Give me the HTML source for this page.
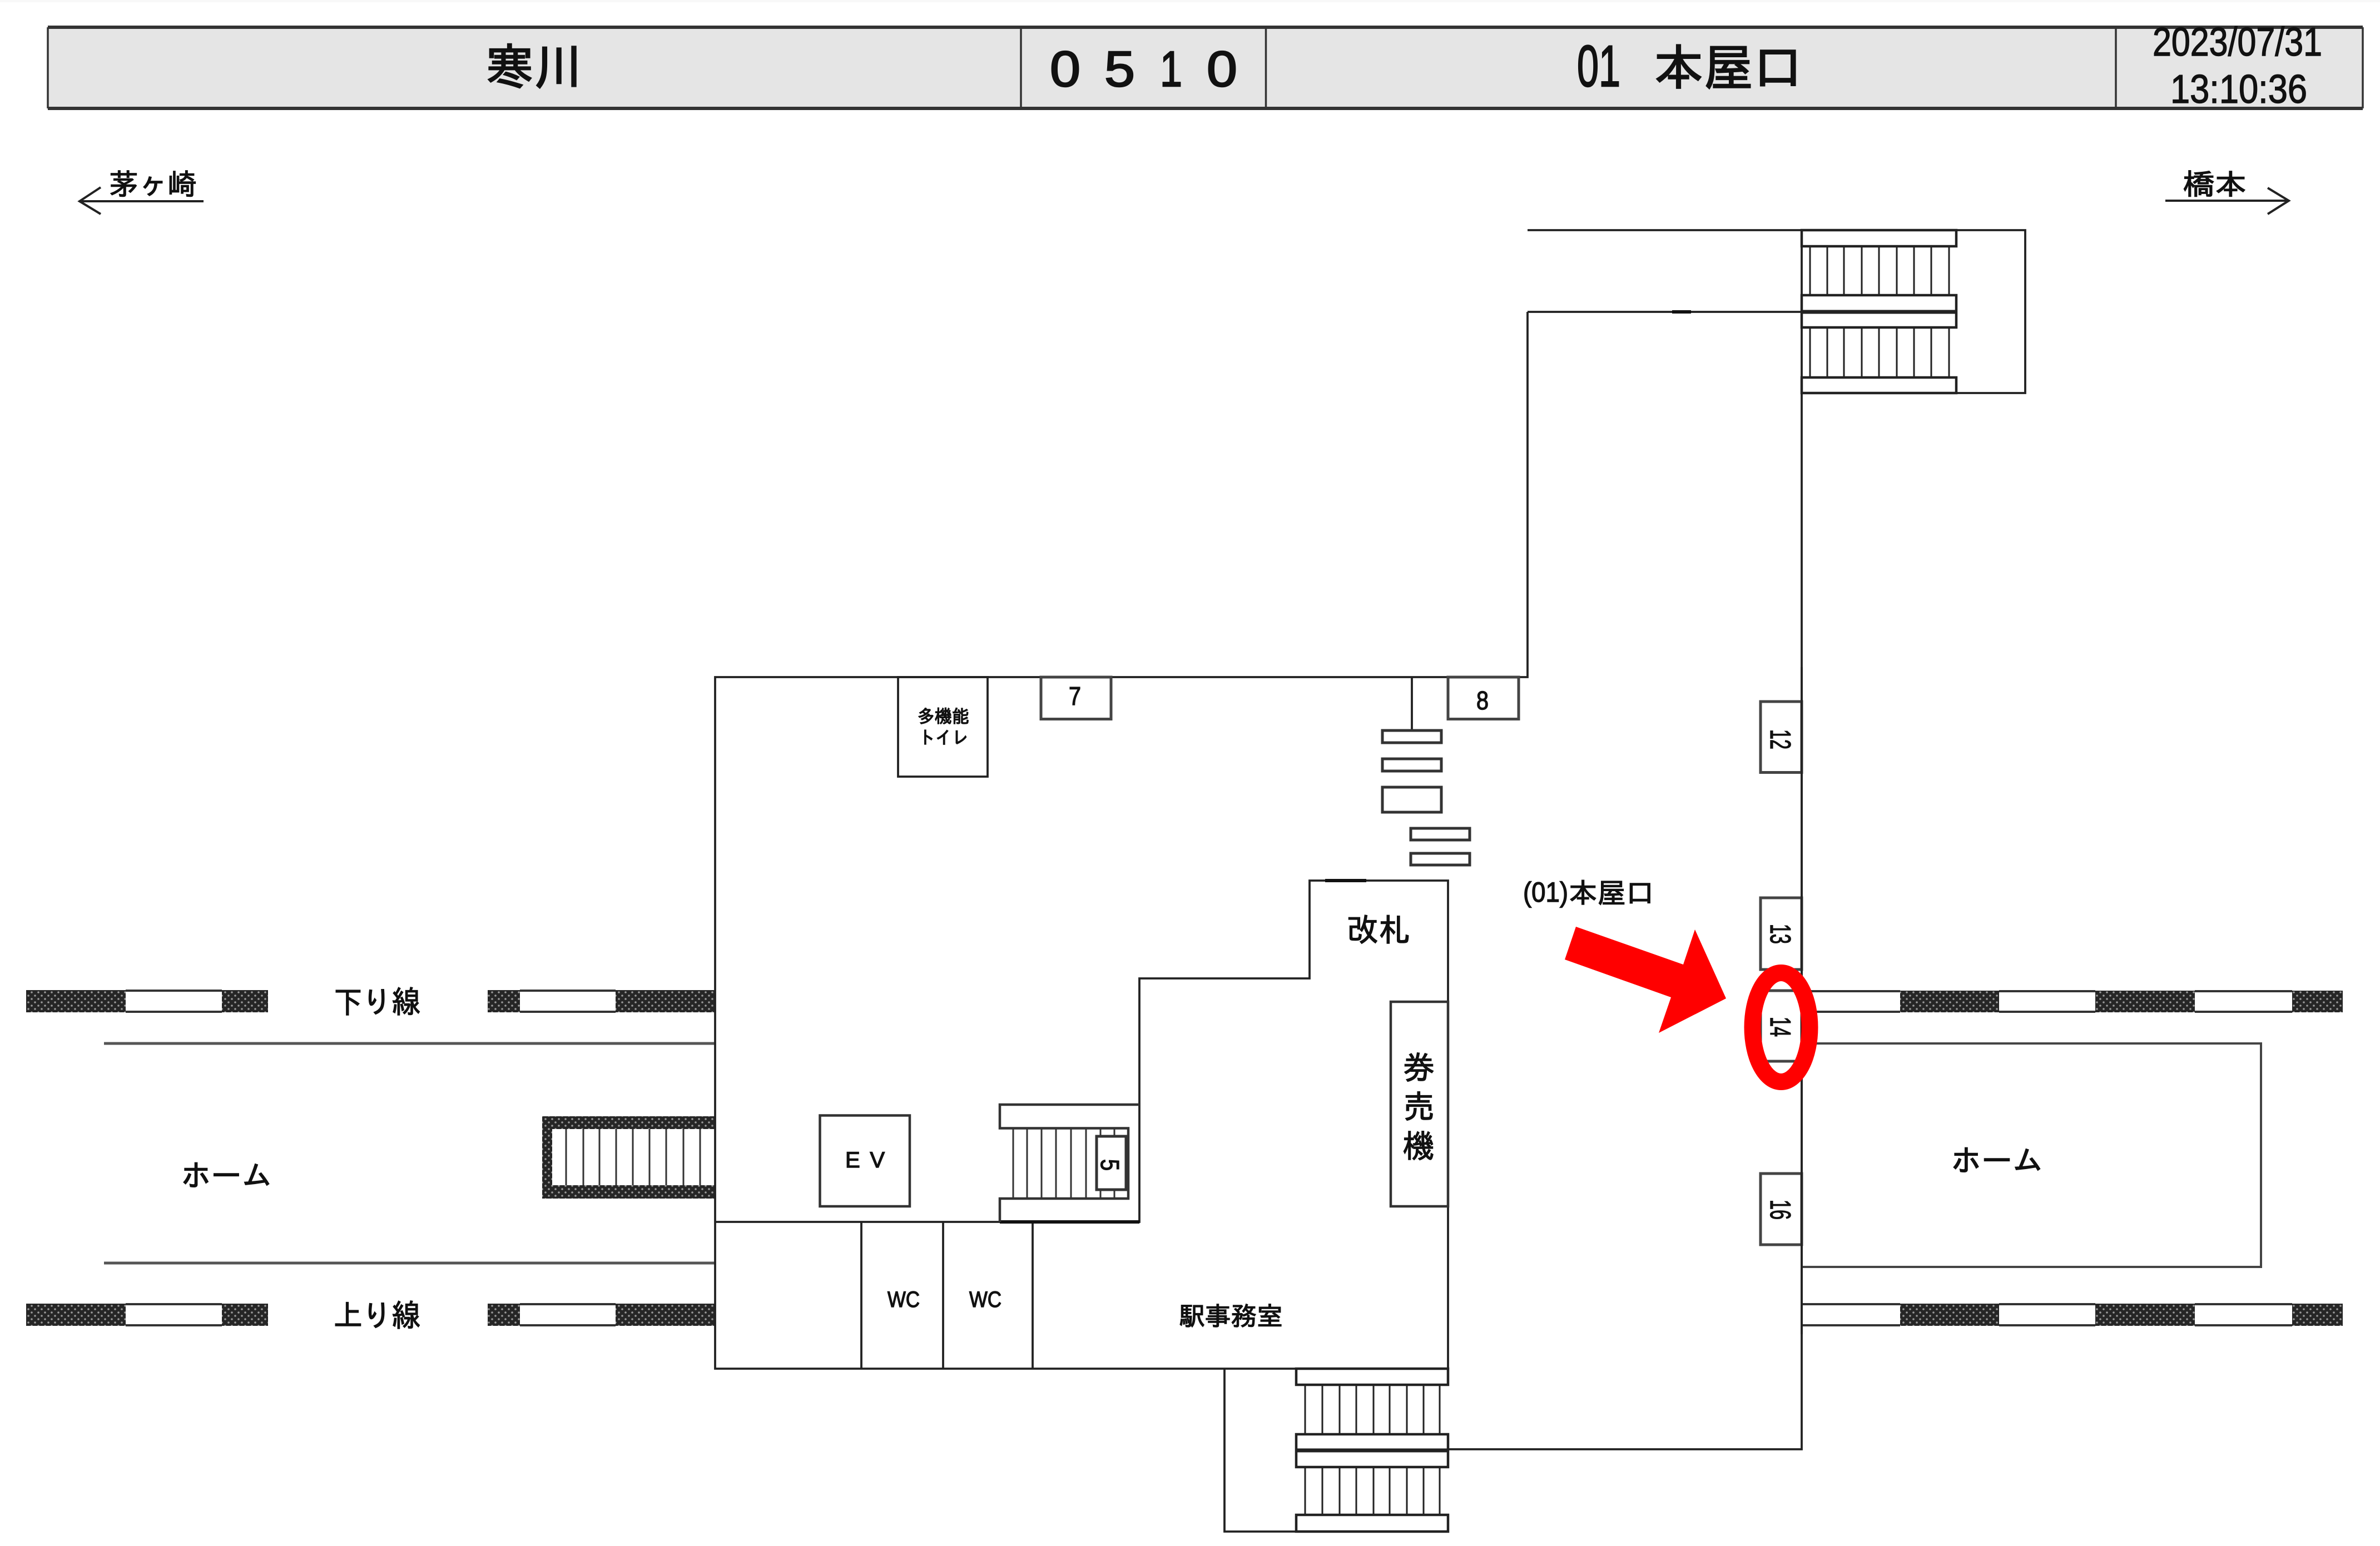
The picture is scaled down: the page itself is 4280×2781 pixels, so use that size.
<!DOCTYPE html>
<html lang="ja"><head><meta charset="utf-8"><title>寒川 0510</title>
<style>
html,body{margin:0;padding:0;background:#fff}
svg{display:block}
text{font-family:"Liberation Sans","IPAGothic","Noto Sans CJK JP",sans-serif;fill:#111;stroke:#111;stroke-width:1.4px}
.b{stroke-width:2.4px}
</style></head><body>
<svg xmlns="http://www.w3.org/2000/svg" width="4280" height="2781" viewBox="0 0 4280 2781">
<defs>
<pattern id="h" width="12" height="12" patternUnits="userSpaceOnUse">
<rect width="12" height="12" fill="#262626"/>
<circle cx="3" cy="3" r="1.8" fill="#999"/><circle cx="9" cy="9" r="1.8" fill="#999"/>
</pattern>
</defs>
<rect width="4280" height="2781" fill="#fff"/>
<rect width="4280" height="4" fill="#f8f8f8"/>

<!-- header -->
<rect x="86" y="49" width="4163" height="146" fill="#e5e5e5"/>
<g stroke="#333" fill="none">
<path d="M86 49H4249M86 195H4249" stroke-width="6"/>
<path d="M86 49V195M1836 47V197M2276.500 47V197M3805 47V197M4249 49V195" stroke-width="3.500"/>
</g>
<text class="b" x="873" y="152" font-size="88" textLength="175" lengthAdjust="spacingAndGlyphs">寒川</text>
<g font-size="90" class="b">
<text class="b" x="1888" y="155" textLength="55" lengthAdjust="spacingAndGlyphs">0</text>
<text class="b" x="1986" y="155" textLength="55" lengthAdjust="spacingAndGlyphs">5</text>
<text class="b" x="2086" y="155" textLength="40" lengthAdjust="spacingAndGlyphs">1</text>
<text class="b" x="2170" y="155" textLength="55" lengthAdjust="spacingAndGlyphs">0</text>
</g>
<text class="b" x="2836" y="155" font-size="105" textLength="78" lengthAdjust="spacingAndGlyphs">01</text>
<text class="b" x="2974" y="153" font-size="89" textLength="268" lengthAdjust="spacingAndGlyphs">本屋口</text>
<text x="3871" y="100" font-size="72" textLength="305" lengthAdjust="spacingAndGlyphs">2023/07/31</text>
<text x="3903" y="185" font-size="72" textLength="246" lengthAdjust="spacingAndGlyphs">13:10:36</text>

<!-- direction arrows -->
<text x="196" y="350" font-size="52" textLength="158" lengthAdjust="spacingAndGlyphs">茅ヶ崎</text>
<path d="M147 362H366M181 337L143 362L181 385" fill="none" stroke="#222" stroke-width="4"/>
<text x="3926" y="350" font-size="52" textLength="114" lengthAdjust="spacingAndGlyphs">橋本</text>
<path d="M3894 361H4115M4078 338L4116 361L4078 385" fill="none" stroke="#222" stroke-width="4"/>

<!-- tracks -->
<g>
<rect x="47" y="1781" width="179" height="40" fill="url(#h)"/>
<rect x="399" y="1781" width="83" height="40" fill="url(#h)"/>
<rect x="877" y="1781" width="58" height="40" fill="url(#h)"/>
<rect x="1107" y="1781" width="180" height="40" fill="url(#h)"/>
<rect x="47" y="2345" width="179" height="40" fill="url(#h)"/>
<rect x="399" y="2345" width="83" height="40" fill="url(#h)"/>
<rect x="877" y="2345" width="58" height="40" fill="url(#h)"/>
<rect x="1107" y="2345" width="180" height="40" fill="url(#h)"/>
<rect x="3417" y="1782" width="178" height="39" fill="url(#h)"/>
<rect x="3768" y="1782" width="179" height="39" fill="url(#h)"/>
<rect x="4122" y="1782" width="91" height="39" fill="url(#h)"/>
<rect x="3417" y="2345" width="178" height="40" fill="url(#h)"/>
<rect x="3768" y="2345" width="179" height="40" fill="url(#h)"/>
<rect x="4122" y="2345" width="91" height="40" fill="url(#h)"/>
</g>
<g stroke="#333" stroke-width="4" fill="none">
<path d="M226 1782H399M226 1820H399M935 1782H1107M935 1820H1107M226 2346H399M226 2384H399M935 2346H1107M935 2384H1107"/>
<path d="M3240 1783H3417M3240 1820H3417M3595 1783H3768M3595 1820H3768M3947 1783H4122M3947 1820H4122"/>
<path d="M3240 2346H3417M3240 2384H3417M3595 2346H3768M3595 2384H3768M3947 2346H4122M3947 2384H4122"/>
</g>
<path d="M187 1877H1287M187 2272H1287" stroke="#555" stroke-width="5" fill="none"/>

<!-- left stair -->
<path d="M975 2008H1287V2031H993V2132H1287V2156H975Z" fill="url(#h)"/>
<path d="M1018 2031V2132M1049 2031V2132M1078 2031V2132M1108 2031V2132M1138 2031V2132M1168 2031V2132M1198 2031V2132M1229 2031V2132M1259 2031V2132" stroke="#333" stroke-width="3"/>

<!-- walls -->
<g stroke="#222" stroke-width="3.800" fill="none">
<path d="M2747 414H3642V707H3240M2747 561V1218H1286V2462H2604V1584H2355V1760H2049V2198H1286"/>
<path d="M2747 561H3240M3240 414V2607H2604"/>
<path d="M1549 2198V2462M1696 2198V2462M1857 2198V2462"/>
<path d="M2539 1218V1314M2202 2462V2755H2604"/>
<path d="M3240 1877H4066V2279H3240" stroke="#444" stroke-width="4"/>
<rect x="1615" y="1218" width="161" height="179"/>
<rect x="1872" y="1218" width="126" height="75.500" stroke-width="5" stroke="#444"/>
<rect x="2604" y="1218" width="127" height="75.500" stroke-width="5" stroke="#444"/>
<rect x="2486" y="1314" width="106" height="22" stroke-width="5" stroke="#333"/>
<rect x="2486" y="1365" width="106" height="22" stroke-width="5" stroke="#333"/>
<rect x="2486" y="1416" width="106" height="45" stroke-width="5" stroke="#333"/>
<rect x="2537" y="1490" width="106" height="21" stroke-width="5" stroke="#333"/>
<rect x="2537" y="1535" width="106" height="21" stroke-width="5" stroke="#333"/>
<rect x="2501" y="1802" width="103" height="368" stroke="#333" stroke-width="4.500"/>
<rect x="1474.500" y="2006.500" width="161.500" height="163.500" stroke="#333" stroke-width="4.500"/>
</g>
<path d="M2383 1584H2457M3007 561H3041M1798 2198H2049" stroke="#111" stroke-width="6" fill="none"/>

<!-- upper stair -->
<g stroke="#222" fill="none">
<rect x="3240" y="414" width="278" height="29" stroke-width="4.500"/>
<rect x="3240" y="531" width="278" height="58" stroke-width="4.500"/>
<rect x="3240" y="679" width="278" height="28" stroke-width="4.500"/>
<path d="M3240 561H3518" stroke-width="7"/>
<path d="M3255 443V531M3286 443V531M3316 443V531M3348 443V531M3379 443V531M3411 443V531M3442 443V531M3473 443V531M3505 443V531M3255 589V679M3286 589V679M3316 589V679M3348 589V679M3379 589V679M3411 589V679M3442 589V679M3473 589V679M3505 589V679" stroke-width="3"/>
</g>

<!-- lower stair -->
<g stroke="#222" fill="none">
<rect x="2331" y="2462" width="273" height="29" stroke-width="4.500"/>
<rect x="2331" y="2580" width="273" height="59" stroke-width="4.500"/>
<rect x="2331" y="2725" width="273" height="30" stroke-width="4.500"/>
<path d="M2331 2609H2604" stroke-width="7"/>
<path d="M2347 2491V2580M2378 2491V2580M2409 2491V2580M2439 2491V2580M2470 2491V2580M2499 2491V2580M2530 2491V2580M2560 2491V2580M2589 2491V2580M2347 2639V2725M2378 2639V2725M2409 2639V2725M2439 2639V2725M2470 2639V2725M2499 2639V2725M2530 2639V2725M2560 2639V2725M2589 2639V2725" stroke-width="3"/>
</g>

<!-- stair 5 -->
<g stroke="#333" fill="none">
<path d="M2049 1987H1798V2029.500H2029V2156H1798V2198" stroke-width="4.500"/>
<path d="M1822 2030V2156M1847 2030V2156M1873 2030V2156M1899 2030V2156M1926 2030V2156M1953 2030V2156M1979 2030V2156M2004 2030V2156" stroke-width="3"/>
<rect x="1972" y="2044" width="53" height="96" fill="#fff" stroke-width="5"/>
</g>

<!-- side boxes -->
<g stroke="#444" stroke-width="5" fill="#fff">
<rect x="3166" y="1262" width="74" height="127.500"/>
<rect x="3166" y="1615" width="74" height="129"/>
<rect x="3166" y="1782" width="74" height="127"/>
<rect x="3166" y="2111" width="74" height="128"/>
</g>
<path d="M3240 1200V2400" stroke="#222" stroke-width="3.800" fill="none"/>

<!-- labels -->
<text transform="translate(3184 1312) rotate(90)" font-size="52" textLength="36" lengthAdjust="spacingAndGlyphs">12</text>
<text transform="translate(3184 1662) rotate(90)" font-size="52" textLength="36" lengthAdjust="spacingAndGlyphs">13</text>
<text transform="translate(3184 1829) rotate(90)" font-size="52" textLength="36" lengthAdjust="spacingAndGlyphs">14</text>
<text transform="translate(3184 2158) rotate(90)" font-size="52" textLength="36" lengthAdjust="spacingAndGlyphs">16</text>
<text transform="translate(1980 2085) rotate(90)" font-size="46" textLength="21" lengthAdjust="spacingAndGlyphs">5</text>
<text x="1922" y="1268" font-size="46" textLength="22" lengthAdjust="spacingAndGlyphs">7</text>
<text x="2655" y="1276" font-size="46" textLength="22" lengthAdjust="spacingAndGlyphs">8</text>
<text x="1650" y="1300" font-size="32" textLength="93" lengthAdjust="spacingAndGlyphs">多機能</text>
<text x="1652" y="1338" font-size="32" textLength="90" lengthAdjust="spacingAndGlyphs">トイレ</text>
<text x="2422" y="1693" font-size="57" textLength="114" lengthAdjust="spacingAndGlyphs">改札</text>
<text x="2523" y="1941" font-size="57">券</text>
<text x="2523" y="2011" font-size="57">売</text>
<text x="2523" y="2082" font-size="57">機</text>
<text x="1520" y="2100" font-size="40" textLength="71" lengthAdjust="spacing">EV</text>
<text x="1596" y="2351" font-size="40" textLength="58" lengthAdjust="spacingAndGlyphs">WC</text>
<text x="1743" y="2351" font-size="40" textLength="58" lengthAdjust="spacingAndGlyphs">WC</text>
<text x="2120" y="2384" font-size="46" textLength="187" lengthAdjust="spacingAndGlyphs">駅事務室</text>
<text x="600" y="1822" font-size="55" textLength="156" lengthAdjust="spacingAndGlyphs">下り線</text>
<text x="600" y="2386" font-size="55" textLength="156" lengthAdjust="spacingAndGlyphs">上り線</text>
<text x="325" y="2134" font-size="55" textLength="164" lengthAdjust="spacingAndGlyphs">ホーム</text>
<text x="3508" y="2107" font-size="55" textLength="166" lengthAdjust="spacingAndGlyphs">ホーム</text>
<text x="2739" y="1622" font-size="50" textLength="81" lengthAdjust="spacingAndGlyphs">(01)</text>
<text x="2821" y="1624" font-size="50" textLength="154" lengthAdjust="spacingAndGlyphs">本屋口</text>

<!-- red markers -->
<polygon points="2834,1667 3027,1735 3048,1672 3104,1796 2983,1858 3005,1794 2814,1726" fill="#f00"/>
<ellipse cx="3203" cy="1848" rx="51.500" ry="98" fill="none" stroke="#f00" stroke-width="30"/>
</svg>
</body></html>
